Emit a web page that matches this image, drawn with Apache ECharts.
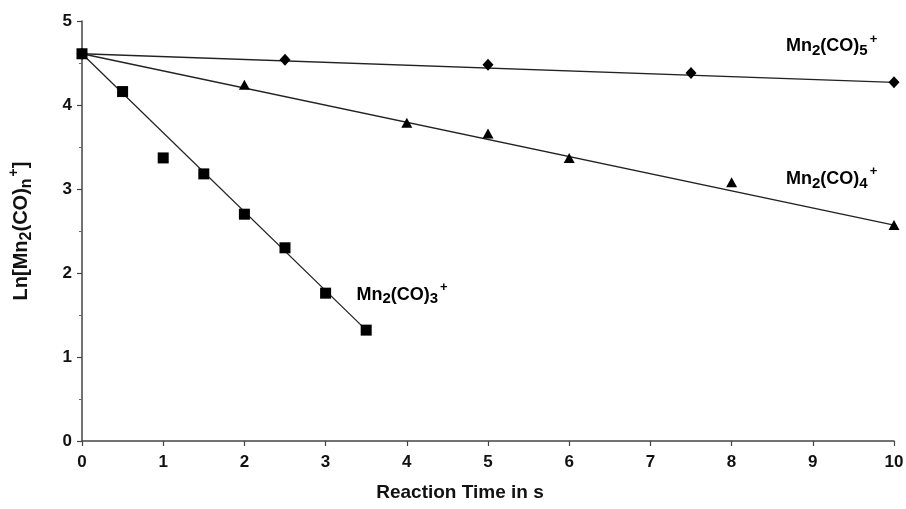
<!DOCTYPE html>
<html><head><meta charset="utf-8">
<script src="https://cdn.jsdelivr.net/npm/echarts@6/dist/echarts.min.js"></script>
<style>html,body{margin:0;padding:0;background:#fff}#c{width:906px;height:509px}</style>
</head><body><div id="c"></div>
<script>
// Mn2(CO)3+ (squares)
const co3X = [0, 0.5, 1.0, 1.5, 2.0, 2.5, 3.0, 3.5];
const co3Y = [4.61, 4.16, 3.37, 3.18, 2.70, 2.30, 1.76, 1.32];
const co3Fit = [[0, 4.61], [3.5, 1.32]];
// Mn2(CO)4+ (triangles)
const co4X = [0, 2, 4, 5, 6, 8, 10];
const co4Y = [4.61, 4.24, 3.79, 3.66, 3.37, 3.08, 2.57];
const co4Fit = [[0, 4.61], [10, 2.57]];
// Mn2(CO)5+ (diamonds)
const co5X = [0, 2.5, 5, 7.5, 10];
const co5Y = [4.61, 4.54, 4.48, 4.38, 4.27];
const co5Fit = [[0, 4.61], [10, 4.27]];
// series labels [x, y, n]
const labelPos = [[8.67, 4.70, '5'], [8.67, 3.12, '4'], [3.38, 1.74, '3']];
const xTicks = [0,1,2,3,4,5,6,7,8,9,10];
const yTicks = [0,1,2,3,4,5];

const FONT = 'Liberation Sans';
const zip = (xs, ys) => xs.map((x, i) => [x, ys[i]]);
const rich = {
  a: {fontFamily: FONT, fontWeight: 'bold', fontSize: 18, color: '#000'},
  s: {fontFamily: FONT, fontWeight: 'bold', fontSize: 15, color: '#000', padding: [9, 0, 0, 0]},
  p: {fontFamily: FONT, fontWeight: 'bold', fontSize: 13, color: '#000', padding: [0, 0, 14, 2]}
};
const lineStyle = {color: '#222', width: 1.3};
const chart = echarts.init(document.getElementById('c'));
chart.setOption({
  backgroundColor: '#fff',
  animation: false,
  grid: {left: 82, right: 12, top: 21, bottom: 68, containLabel: false, outerBoundsMode: 'none'},
  xAxis: {
    type: 'value', min: 0, max: 10, interval: 1,
    name: 'Reaction Time in s', nameLocation: 'middle', nameGap: 42,
    nameTextStyle: {fontFamily: FONT, fontWeight: 'bold', fontSize: 19, color: '#111', padding: [0, 56, 0, 0]},
    axisLine: {lineStyle: {color: '#444', width: 1.5}},
    axisTick: {show: true, length: 5, lineStyle: {color: '#444', width: 1.2}},
    axisLabel: {fontFamily: FONT, fontWeight: 'bold', fontSize: 17, color: '#111', margin: 13,
      formatter: v => xTicks.includes(v) ? String(v) : ''},
    splitLine: {show: false}
  },
  yAxis: {
    type: 'value', min: 0, max: 5, interval: 1,
    name: 'Ln[Mn{s|2}(CO){s|n}{p|+}]', nameLocation: 'middle', nameGap: 46, nameRotate: 90,
    nameTextStyle: {fontFamily: FONT, fontWeight: 'bold', fontSize: 20, color: '#111',
      rich: {
        s: {fontFamily: FONT, fontWeight: 'bold', fontSize: 16, color: '#111', padding: [10, 0, 0, 0]},
        p: {fontFamily: FONT, fontWeight: 'bold', fontSize: 14, color: '#111', padding: [0, 0, 15, 2]}
      }},
    axisLine: {show: true, lineStyle: {color: '#444', width: 1.5}},
    axisTick: {show: true, length: 5, lineStyle: {color: '#444', width: 1.2}},
    minorTick: {show: true, splitNumber: 2, length: 3, lineStyle: {color: '#666'}},
    axisLabel: {fontFamily: FONT, fontWeight: 'bold', fontSize: 17, color: '#111', margin: 10,
      formatter: v => yTicks.includes(v) ? String(v) : ''},
    splitLine: {show: false}
  },
  series: [
    {type: 'line', data: co5Fit, symbol: 'none', lineStyle, z: 2},
    {type: 'line', data: co4Fit, symbol: 'none', lineStyle, z: 2},
    {type: 'line', data: co3Fit, symbol: 'none', lineStyle, z: 2},
    {type: 'scatter', data: zip(co5X, co5Y), symbol: 'diamond', symbolSize: [11, 12], itemStyle: {color: '#000', opacity: 1}, z: 3},
    {type: 'scatter', data: zip(co4X, co4Y), symbol: 'triangle', symbolSize: [11, 10], itemStyle: {color: '#000', opacity: 1}, z: 3},
    {type: 'scatter', data: zip(co3X, co3Y), symbol: 'rect', symbolSize: 11, itemStyle: {color: '#000', opacity: 1}, z: 4},
    {type: 'scatter', data: labelPos.map(p => ({value: [p[0], p[1]], n: p[2]})), symbolSize: 0, silent: true,
      itemStyle: {opacity: 1, color: '#000'},
      label: {show: true, position: 'right', distance: 0, color: '#000',
        formatter: p => '{a|Mn}{s|2}{a|(CO)}{s|' + p.data.n + '}{p|+}', rich}}
  ]
});
</script></body></html>
